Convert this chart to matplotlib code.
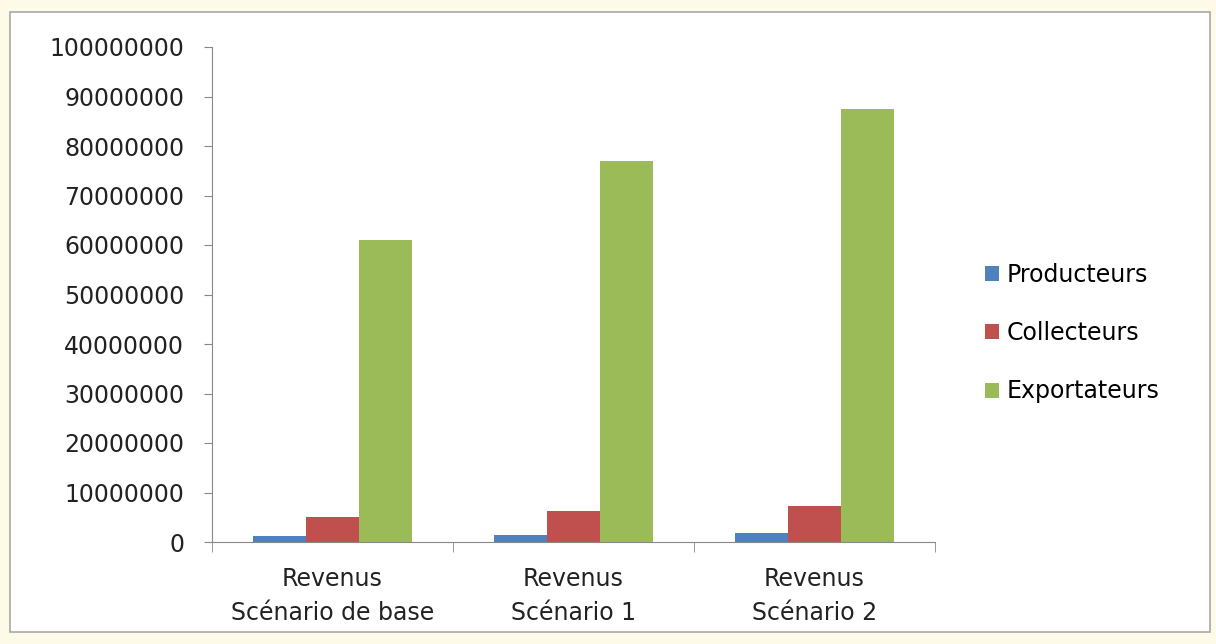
import numpy as np
import matplotlib.pyplot as plt
from matplotlib.patches import Rectangle

categories = ["Revenus\nScénario de base", "Revenus\nScénario 1", "Revenus\nScénario 2"]
producteurs = [1200000, 1500000, 1800000]
collecteurs = [5000000, 6300000, 7300000]
exportateurs = [61000000, 77000000, 87500000]
series_names = ["Producteurs", "Collecteurs", "Exportateurs"]
colors = ["#4f81bd", "#c0504d", "#9bbb59"]

plt.rcParams['font.family'] = ['DejaVu Sans']

fig = plt.figure(figsize=(12.16, 6.44), dpi=100)
fig.patch.set_facecolor("#fdfbe8")
# chart area frame
fig.patches.append(Rectangle((10/1216, 12/644), 1200/1216, 620/644, transform=fig.transFigure,
                             facecolor="white", edgecolor="#a8a8a8", lw=1.2, zorder=-5))

ax = fig.add_axes([212/1216, 102/644, 723/1216, 495/644])
ax.set_zorder(2)
ax.patch.set_alpha(0)
x = np.arange(len(categories))
w = 0.22
for i, (vals, c) in enumerate(zip([producteurs, collecteurs, exportateurs], colors)):
    ax.bar(x + (i - 1) * w, vals, width=w, color=c, label=series_names[i], zorder=2)

fs = 17
ax.set_xlim(-0.5, 2.5)
ax.set_ylim(0, 100000000)
ax.set_yticks(np.arange(0, 100000001, 10000000))
ax.set_yticklabels([str(v) for v in range(0, 100000001, 10000000)], fontsize=fs, color="#222222")
ax.set_xticks(x)
ax.set_xticklabels(categories, fontsize=fs, color="#222222", linespacing=1.5)
ax.set_xticks([-0.5, 0.5, 1.5, 2.5], minor=True)
ax.tick_params(axis='x', which='major', length=0, pad=18)
ax.tick_params(axis='x', which='minor', length=7, color="#888888")
ax.tick_params(axis='y', length=6, color="#888888", pad=14)
for s in ["top", "right"]:
    ax.spines[s].set_visible(False)
ax.spines["left"].set_color("#888888")
ax.spines["bottom"].set_color("#888888")

ax.legend(loc="center left", bbox_to_anchor=(1.04, 0.422), frameon=False, fontsize=fs,
          handlelength=0.6, handleheight=0.6, labelspacing=1.45, handletextpad=0.3)

plt.savefig("out.png", dpi=100)
